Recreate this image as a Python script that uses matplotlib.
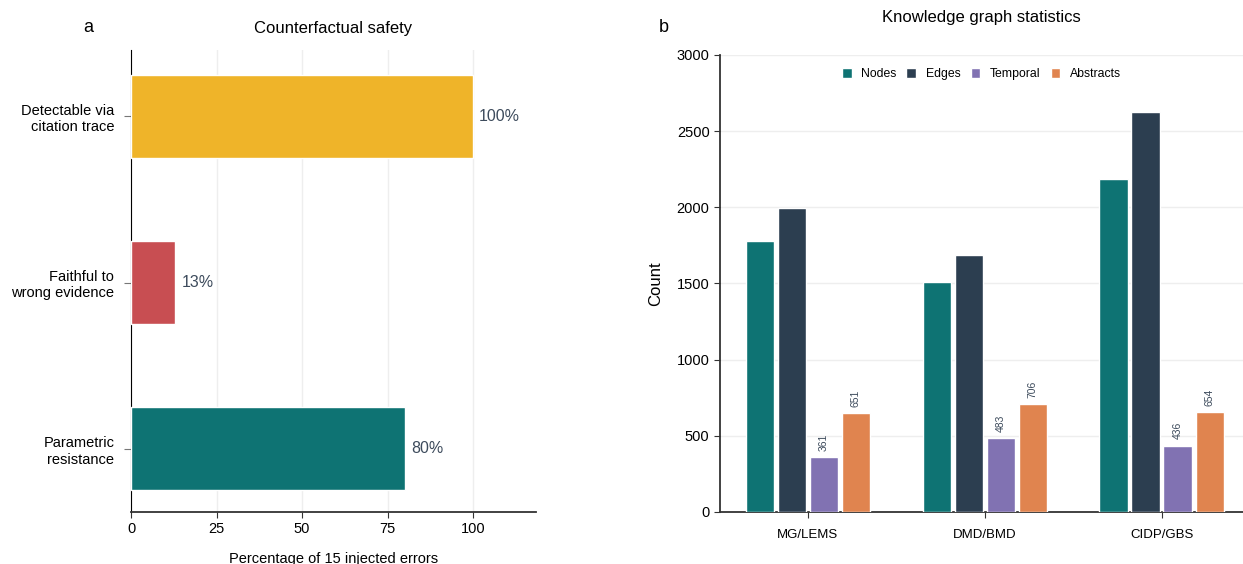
import numpy as np
import matplotlib
matplotlib.use("Agg")
import matplotlib.pyplot as plt

plt.rcParams['font.family'] = ['Liberation Sans', 'DejaVu Sans']

# panel a data
safety_labels = ["Detectable via\ncitation trace", "Faithful to\nwrong evidence", "Parametric\nresistance"]
safety_values = [100, 13, 80]
safety_colors = ["#EFB429", "#C84E52", "#0E7373"]

# panel b data
diseases = ["MG/LEMS", "DMD/BMD", "CIDP/GBS"]
nodes = [1776, 1512, 2186]
edges = [1996, 1685, 2628]
temporal = [361, 483, 436]
abstracts = [651, 706, 654]
series_names = ["Nodes", "Edges", "Temporal", "Abstracts"]
series_colors = ["#0E7373", "#2C3E50", "#8172B2", "#E0844F"]

label_color = "#3D4B5C"
grid_color = "#EEEEEE"

fig = plt.figure(figsize=(12.43, 5.64), dpi=100)

# ---- panel a ----
ax1 = fig.add_axes([0.1054, 0.0922, 0.3258, 0.8191])
ypos = np.arange(len(safety_labels))
ax1.barh(ypos, safety_values, height=0.5, color=safety_colors, edgecolor="white", linewidth=1, zorder=3)
for y, v in zip(ypos, safety_values):
    ax1.text(v + 1.8, y, f"{v}%", va="center", ha="left", fontsize=11.5, color=label_color)
ax1.set_yticks(ypos)
ax1.set_yticklabels(safety_labels, fontsize=10.5)
ax1.set_ylim(2.38, -0.40)
ax1.set_xlim(0, 118.4)
ax1.set_xticks([0, 25, 50, 75, 100])
ax1.tick_params(axis="x", labelsize=10.5, length=4, color="#333333")
ax1.tick_params(axis="y", length=5, pad=7, color="#777777")
ax1.xaxis.grid(True, color=grid_color, linewidth=1, zorder=0)
ax1.set_axisbelow(True)
for s in ["top", "right"]:
    ax1.spines[s].set_visible(False)
ax1.spines["left"].set_color("black")
ax1.spines["bottom"].set_color("#333333")
ax1.spines["bottom"].set_linewidth(1.3)
ax1.set_xlabel("Percentage of 15 injected errors", fontsize=10.5, labelpad=11)
ax1.set_title("Counterfactual safety", fontsize=12, pad=12)
fig.text(0.071, 0.952, "a", fontsize=13, ha="center", va="center")

# ---- panel b ----
ax2 = fig.add_axes([0.5792, 0.0922, 0.4208, 0.8103])
x = np.arange(len(diseases))
step = 0.181
width = 0.16
all_series = [nodes, edges, temporal, abstracts]
for i, (vals, name, col) in enumerate(zip(all_series, series_names, series_colors)):
    pos = x + (i - 1.5) * step
    ax2.bar(pos, vals, width=width, color=col, edgecolor="white", linewidth=1, label=name, zorder=3)
    if name in ("Temporal", "Abstracts"):
        for px, v in zip(pos, vals):
            ax2.text(px, v + 40, str(v), rotation=90, ha="center", va="bottom",
                     fontsize=7.5, color=label_color)
ax2.set_xticks(x)
ax2.set_xticklabels(diseases, fontsize=9.5)
ax2.set_xlim(-0.497, 2.46)
ax2.set_ylim(0, 3000)
ax2.set_yticks([0, 500, 1000, 1500, 2000, 2500, 3000])
ax2.tick_params(axis="y", labelsize=10.5, length=4, color="#333333")
ax2.tick_params(axis="x", length=4, color="#333333", pad=8)
ax2.yaxis.grid(True, color=grid_color, linewidth=1, zorder=0)
ax2.set_axisbelow(True)
for s in ["top", "right"]:
    ax2.spines[s].set_visible(False)
ax2.spines["left"].set_color("#333333")
ax2.spines["left"].set_linewidth(1.3)
ax2.spines["bottom"].set_color("#333333")
ax2.spines["bottom"].set_linewidth(1.3)
ax2.set_ylabel("Count", fontsize=12, labelpad=10)
ax2.set_title("Knowledge graph statistics", fontsize=12, pad=24)
ax2.legend(loc="upper center", bbox_to_anchor=(0.5, 0.995), ncol=4, frameon=False,
           fontsize=8.8, handlelength=0.8, handleheight=0.8, columnspacing=0.8, handletextpad=0.8)
fig.text(0.534, 0.952, "b", fontsize=13, ha="center", va="center")

fig.savefig("out.png", dpi=100)
